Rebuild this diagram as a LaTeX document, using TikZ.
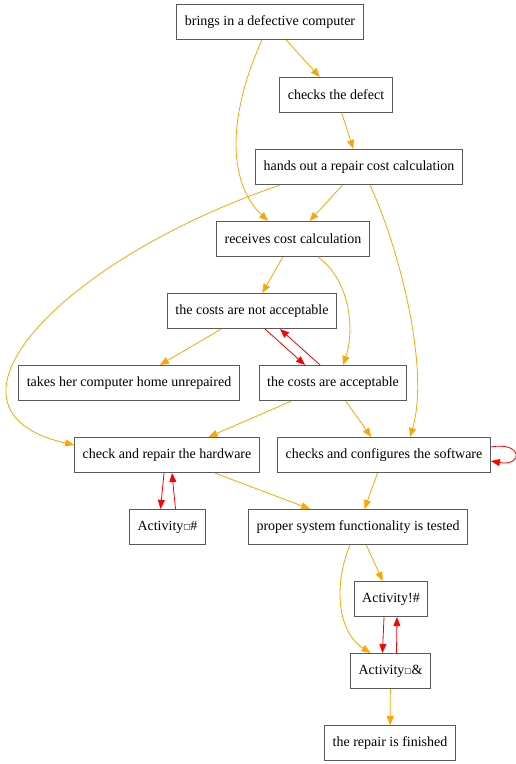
\documentclass[tikz,border=0pt]{standalone}
\usepackage{fontspec}
\setmainfont{Liberation Serif}
\newfontfamily\boxglyph{DejaVu Sans}
\usetikzlibrary{arrows.meta}
\definecolor{floworange}{HTML}{FFA500}
\newcommand{\sq}{\raisebox{1pt}{\boxglyph\fontsize{7.5}{7.5}\selectfont □}}

\tikzstyle{activity}=[draw=black!65,line width=1.1pt,fill=white,minimum height=35pt,inner xsep=8pt,font=\fontsize{14}{16}\selectfont]
\tikzstyle{flow edge} = [draw,line width=0.8pt,->,floworange]
\tikzstyle{back edge} = [draw,line width=0.8pt,->,red]

\begin{document}
\begin{tikzpicture}[x=1pt,y=-1pt,>={Triangle[length=9pt,width=7pt]}]
			\useasboundingbox (0,0) rectangle (516,764);
			\node[activity] (brings) at (270,22) {brings in a defective computer};
			\node[activity] (checks) at (336,95) {checks the defect};
			\node[activity] (handsout) at (359,167) {hands out a repair cost calculation};
			\node[activity] (receives) at (293,239) {receives cost calculation};
			\node[activity] (notacc) at (252,311) {the costs are not acceptable};
			\node[activity] (home) at (129,383) {takes her computer home unrepaired};
			\node[activity] (acc) at (333,383) {the costs are acceptable};
			\node[activity] (hardware) at (167,455) {check and repair the hardware};
			\node[activity] (software) at (384,455) {checks and configures the software};
			\node[activity] (actA) at (167.5,527) {Activity\sq\#};
			\node[activity] (tested) at (358,527) {proper system functionality is tested};
			\node[activity] (actB) at (391,599) {Activity!\#};
			\node[activity] (actC) at (390.5,671) {Activity\sq\&};
			\node[activity] (finished) at (390,743) {the repair is finished};
	   		 % Straight flow between activities
	   		\foreach \source/ \dest in {brings/checks, checks/handsout, handsout/receives,
	   			receives/notacc, notacc/home, acc/hardware, acc/software,
	   			hardware/tested, software/tested, tested/actB, actC/finished}
	        		\path[flow edge] (\source) to (\dest);
			% Curved flow
			\path[flow edge] ([xshift=-8pt]brings.south) .. controls (230,110) and (225,180) .. ([xshift=-25pt]receives.north);
			\path[flow edge] ([xshift=25pt]handsout.south west) .. controls (60,260) and (-80,410) .. ([yshift=-8pt]hardware.north west);
			\path[flow edge] ([xshift=11pt]handsout.south) .. controls (400,250) and (430,370) .. ([xshift=26pt]software.north);
			\path[flow edge] ([xshift=25pt]receives.south) .. controls (350,280) and (355,330) .. ([xshift=10pt]acc.north);
			\path[flow edge] ([xshift=-8pt]tested.south) .. controls (335,580) and (335,630) .. ([xshift=-20pt]actC.north);
			% Loops back and forth
			\path[back edge] ([xshift=13pt]notacc.south) to ([xshift=-28pt]acc.north);
			\path[back edge] ([xshift=-13pt]acc.north) to ([xshift=28pt]notacc.south);
			\path[back edge] ([xshift=-3pt]hardware.south) to ([xshift=-7pt]actA.north);
			\path[back edge] ([xshift=8pt]actA.north) to ([xshift=5pt]hardware.south);
			\path[back edge] ([xshift=-7pt]actB.south) to ([xshift=-8pt]actC.north);
			\path[back edge] ([xshift=6pt]actC.north) to ([xshift=6pt]actB.south);
			\path[back edge] ([yshift=8pt]software.east) to[out=10,in=-10,looseness=6] ([yshift=-6pt]software.east);
		\end{tikzpicture}
\end{document}
